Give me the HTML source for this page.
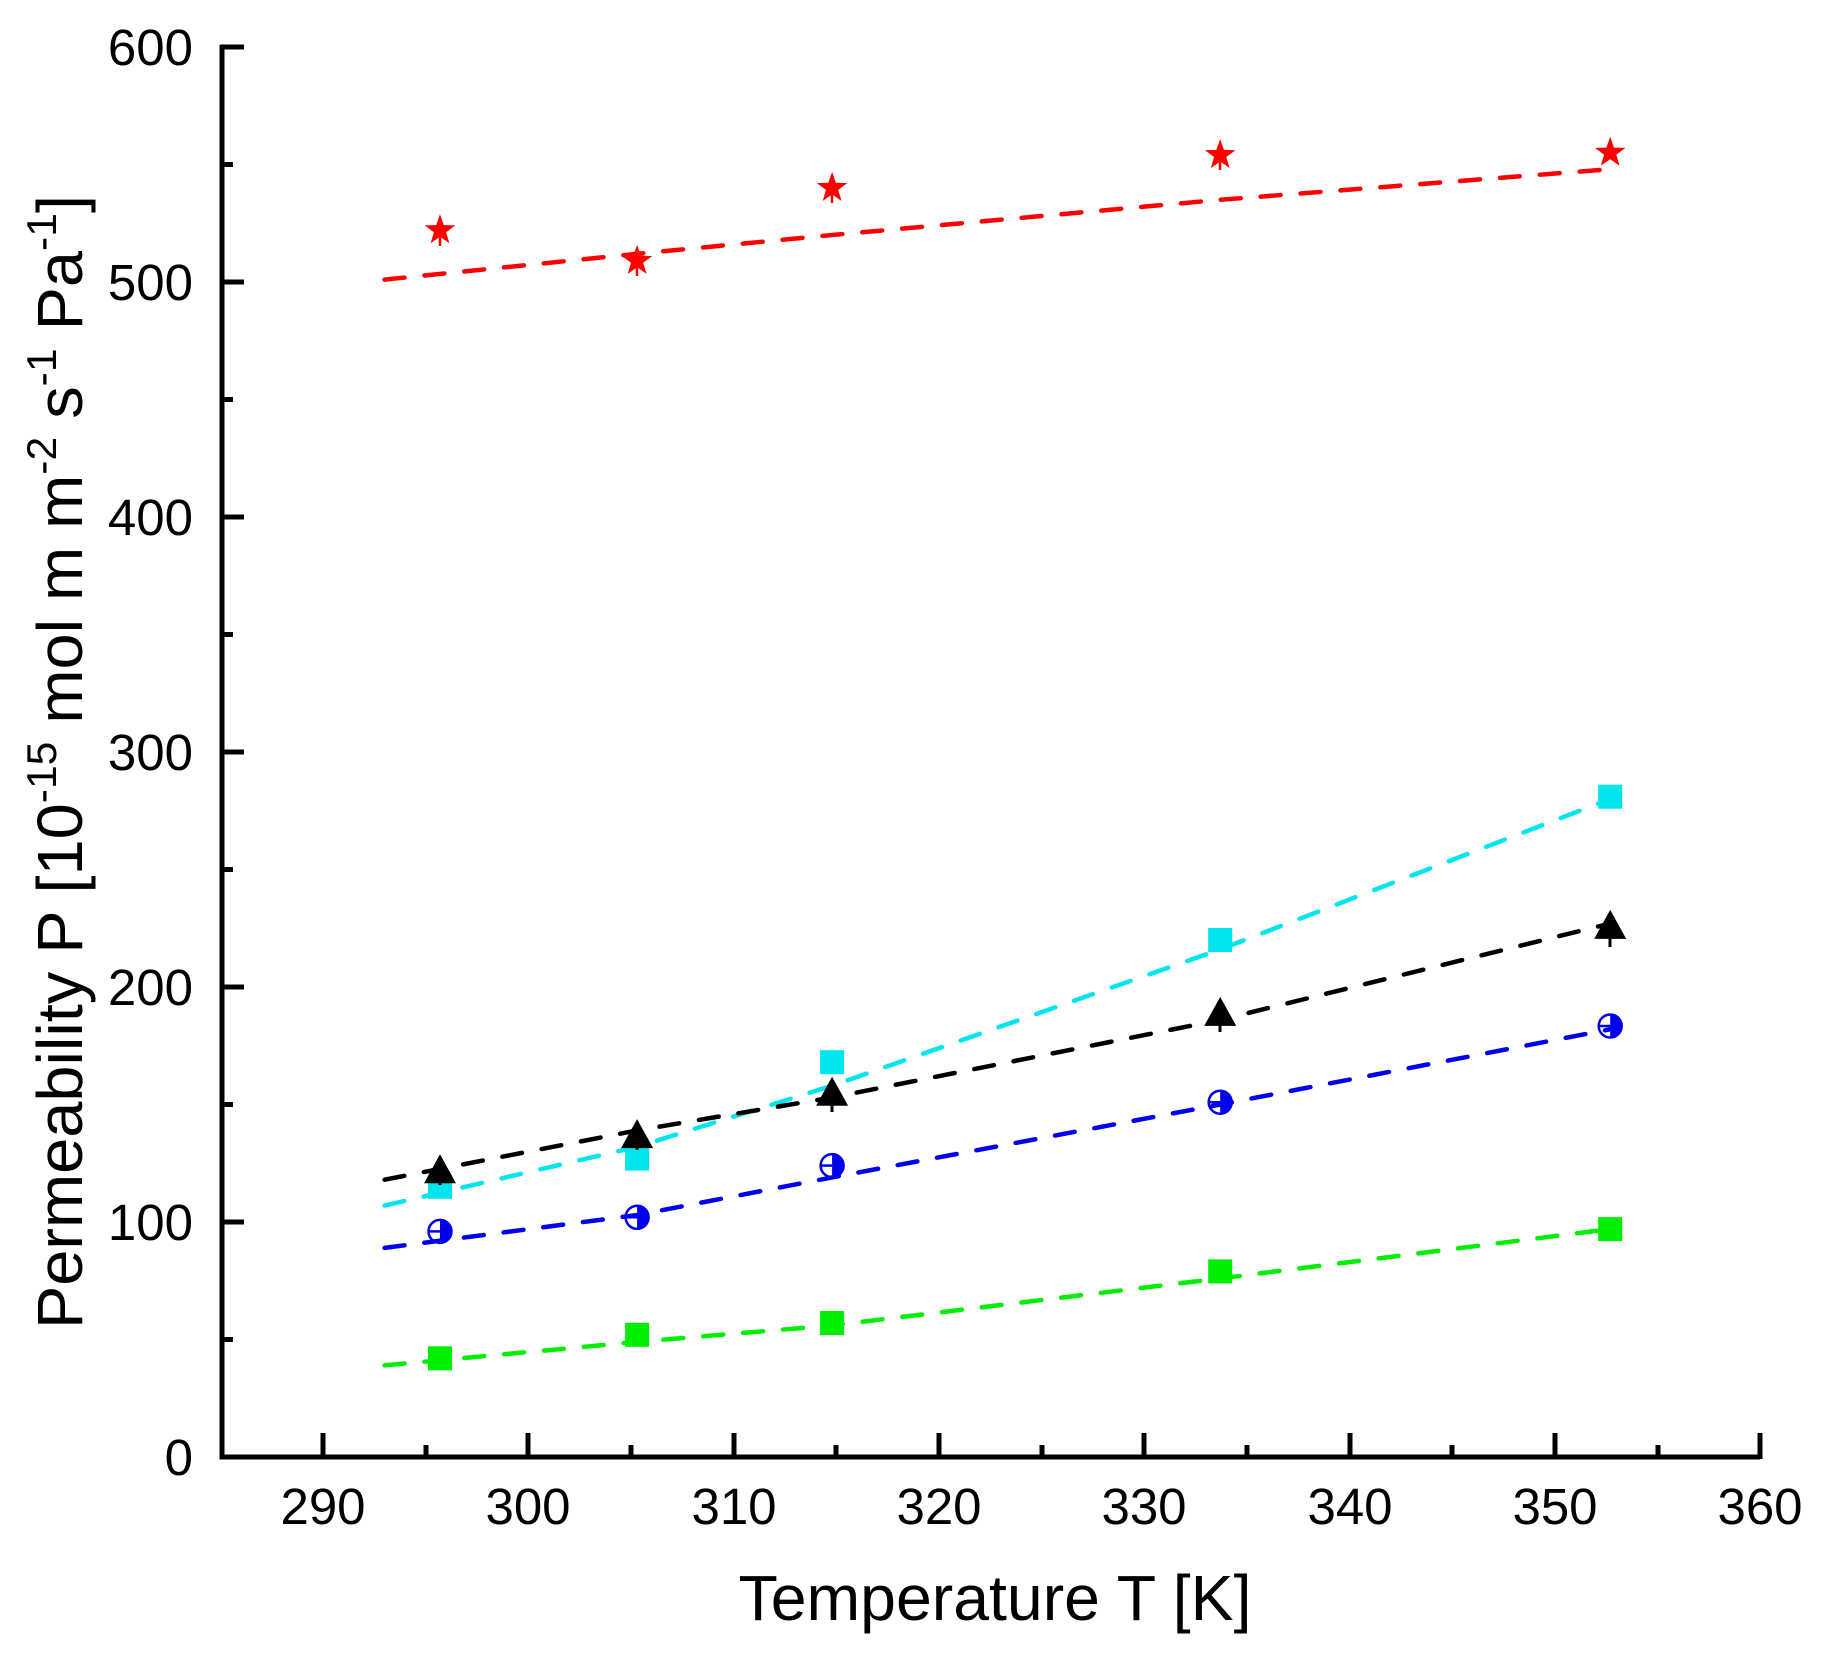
<!DOCTYPE html>
<html><head><style>html,body{margin:0;padding:0;background:#fff}svg{display:block}</style></head>
<body>
<svg width="1827" height="1665" viewBox="0 0 1827 1665" xmlns="http://www.w3.org/2000/svg" font-family="Liberation Sans, Arial, sans-serif">
<rect width="1827" height="1665" fill="#fff"/>
<path d="M222 45 V1457 H1760" fill="none" stroke="#000" stroke-width="5"/>
<g stroke="#000" stroke-width="5">
<line x1="220" y1="47" x2="244" y2="47"/><line x1="220" y1="282" x2="244" y2="282"/><line x1="220" y1="517" x2="244" y2="517"/><line x1="220" y1="752" x2="244" y2="752"/><line x1="220" y1="987" x2="244" y2="987"/><line x1="220" y1="1222" x2="244" y2="1222"/>
<line x1="220" y1="164.5" x2="233" y2="164.5"/><line x1="220" y1="399.5" x2="233" y2="399.5"/><line x1="220" y1="634.5" x2="233" y2="634.5"/><line x1="220" y1="869.5" x2="233" y2="869.5"/><line x1="220" y1="1104.5" x2="233" y2="1104.5"/><line x1="220" y1="1339.5" x2="233" y2="1339.5"/>
<line x1="323" y1="1457" x2="323" y2="1433"/><line x1="528" y1="1457" x2="528" y2="1433"/><line x1="734" y1="1457" x2="734" y2="1433"/><line x1="939" y1="1457" x2="939" y2="1433"/><line x1="1144" y1="1457" x2="1144" y2="1433"/><line x1="1350" y1="1457" x2="1350" y2="1433"/><line x1="1555" y1="1457" x2="1555" y2="1433"/><line x1="1760" y1="1459" x2="1760" y2="1433"/>
<line x1="426" y1="1457" x2="426" y2="1445"/><line x1="631" y1="1457" x2="631" y2="1445"/><line x1="836" y1="1457" x2="836" y2="1445"/><line x1="1042" y1="1457" x2="1042" y2="1445"/><line x1="1247" y1="1457" x2="1247" y2="1445"/><line x1="1452" y1="1457" x2="1452" y2="1445"/><line x1="1658" y1="1457" x2="1658" y2="1445"/>
</g>
<g font-size="51" text-anchor="end" fill="#000">
<text x="193" y="65">600</text><text x="193" y="300">500</text><text x="193" y="535">400</text><text x="193" y="770">300</text><text x="193" y="1005">200</text><text x="193" y="1240">100</text><text x="193" y="1475">0</text>
</g>
<g font-size="51" text-anchor="middle" fill="#000">
<text x="323" y="1524">290</text><text x="528" y="1524">300</text><text x="734" y="1524">310</text><text x="939" y="1524">320</text><text x="1144" y="1524">330</text><text x="1350" y="1524">340</text><text x="1555" y="1524">350</text><text x="1760" y="1524">360</text>
</g>
<text x="995" y="1620" font-size="64" text-anchor="middle" textLength="513" lengthAdjust="spacingAndGlyphs">Temperature T [K]</text>
<text transform="translate(82,762) rotate(-90)" font-size="64" text-anchor="middle" textLength="1134" lengthAdjust="spacingAndGlyphs">Permeability P [10<tspan font-size="42" dy="-26">-15</tspan><tspan dy="26"> mol m m</tspan><tspan font-size="42" dy="-26">-2</tspan><tspan dy="26"> s</tspan><tspan font-size="42" dy="-26">-1</tspan><tspan dy="26"> Pa</tspan><tspan font-size="42" dy="-26">-1</tspan><tspan dy="26">]</tspan></text>
<g fill="none" stroke-width="4.5" stroke-dasharray="20 20" stroke-linecap="round">
<polyline stroke="#ff0000" points="384.6,279.6 637.1,253.8 832.1,235 1220.2,199.8 1610.2,169.2"/>
<polyline stroke="#00e5ee" points="384.6,1205.6 637.1,1146.8 832.1,1085.7 1220.2,949.4 1610.2,799"/>
<polyline stroke="#000" points="384.6,1179.7 637.1,1130.4 832.1,1097.5 1220.2,1019.9 1610.2,923.5"/>
<polyline stroke="#0000ee" points="384.6,1247.9 637.1,1215 832.1,1177.4 1220.2,1104.5 1610.2,1029.3"/>
<polyline stroke="#00ee00" points="384.6,1365.4 637.1,1341.9 832.1,1325.4 1220.2,1278.4 1610.2,1229.1"/>
</g>
<defs>
<polygon id="star" points="0,-16 3.8,-5.2 15.3,-4.9 6.1,1.9 9.4,13 0,6.4 -9.4,13 -6.1,1.9 -15.3,-4.9 -3.8,-5.2" fill="#ff0000"/>
<polygon id="tri" points="0,-16 16,13 -16,13" fill="#000"/>
<rect id="sq" x="-12" y="-12" width="24" height="24"/>
<g id="circ"><path d="M0,-12.5 A12.5,12.5 0 0 1 0,12.5 Z" fill="#0000ee"/><circle r="11.5" fill="none" stroke="#0000ee" stroke-width="2.5"/><line x1="-11" y1="0" x2="0" y2="0" stroke="#0000ee" stroke-width="2.5"/></g>
</defs>
<g stroke="#ff0000" stroke-width="2.5"><line x1="440" y1="230" x2="440" y2="246"/><line x1="637" y1="261" x2="637" y2="276"/><line x1="832" y1="188" x2="832" y2="203"/><line x1="1220" y1="155" x2="1220" y2="170"/></g>
<use href="#star" x="440" y="230.3"/><use href="#star" x="637.1" y="260.9"/><use href="#star" x="832.1" y="188"/><use href="#star" x="1220.2" y="155.1"/><use href="#star" x="1610.2" y="152.8"/>
<g fill="#00e5ee"><use href="#sq" x="440" y="1186.8"/><use href="#sq" x="637.1" y="1158.6"/><use href="#sq" x="832.1" y="1062.2"/><use href="#sq" x="1220.2" y="940"/><use href="#sq" x="1610.2" y="796.7"/></g>
<g stroke="#000" stroke-width="3"><line x1="440" y1="1165" x2="440" y2="1185"/><line x1="637" y1="1130" x2="637" y2="1150"/><line x1="832" y1="1088" x2="832" y2="1112"/><line x1="1220" y1="1008" x2="1220" y2="1032"/><line x1="1610" y1="920" x2="1610" y2="947"/></g>
<use href="#tri" x="440" y="1170.3"/><use href="#tri" x="637.1" y="1135.1"/><use href="#tri" x="832.1" y="1092.8"/><use href="#tri" x="1220.2" y="1012.9"/><use href="#tri" x="1610.2" y="925.9"/>
<use href="#circ" x="440" y="1231.4"/><use href="#circ" x="637.1" y="1217.3"/><use href="#circ" x="832.1" y="1165.6"/><use href="#circ" x="1220.2" y="1102.2"/><use href="#circ" x="1610.2" y="1026"/>
<g fill="#00ee00"><use href="#sq" x="440" y="1358.3"/><use href="#sq" x="637.1" y="1334.8"/><use href="#sq" x="832.1" y="1323"/><use href="#sq" x="1220.2" y="1271.4"/><use href="#sq" x="1610.2" y="1229.1"/></g>
</svg>
</body></html>
